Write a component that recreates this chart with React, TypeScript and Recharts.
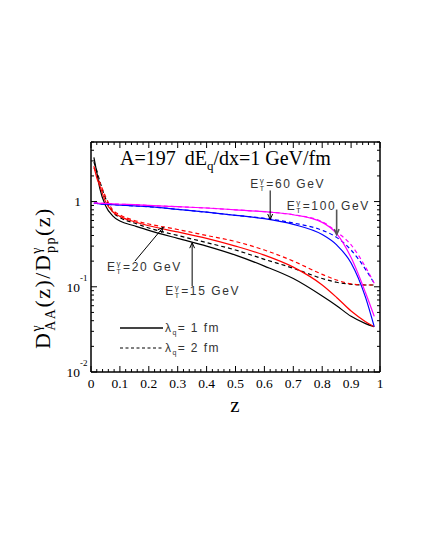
import React from "react";
import { LineChart, Line, XAxis, YAxis, ReferenceLine } from "recharts";

// z (fragmentation variable)
const zValues = [0.01, 0.02, 0.03, 0.05, 0.075, 0.1, 0.15, 0.2, 0.3, 0.4, 0.5, 0.6, 0.7, 0.8, 0.85, 0.9, 0.95, 0.98];

// lambda_q = 1 fm (solid)
const et15Lambda1 = [3.3, 2.2, 1.45, 0.9, 0.68, 0.59, 0.52, 0.46, 0.37, 0.3, 0.235, 0.175, 0.125, 0.078, 0.06, 0.045, 0.037, 0.034];
const et20Lambda1 = [2.6, 1.9, 1.55, 1.0, 0.76, 0.67, 0.58, 0.52, 0.44, 0.37, 0.3, 0.235, 0.17, 0.105, 0.075, 0.052, 0.039, 0.034];
const et60Lambda1 = [0.95, 0.95, 0.94, 0.93, 0.92, 0.91, 0.89, 0.87, 0.81, 0.75, 0.69, 0.63, 0.54, 0.41, 0.31, 0.19, 0.075, 0.034];
const et100Lambda1 = [0.96, 0.96, 0.95, 0.95, 0.94, 0.93, 0.92, 0.9, 0.87, 0.84, 0.8, 0.76, 0.7, 0.57, 0.42, 0.22, 0.085, 0.045];

// lambda_q = 2 fm (dashed)
const et15Lambda2 = [2.9, 2.3, 1.75, 1.1, 0.76, 0.65, 0.56, 0.49, 0.4, 0.33, 0.27, 0.21, 0.165, 0.125, 0.113, 0.107, 0.105, 0.105];
const et20Lambda2 = [2.5, 2.1, 1.7, 1.15, 0.8, 0.7, 0.6, 0.545, 0.47, 0.4, 0.34, 0.27, 0.2, 0.14, 0.12, 0.108, 0.105, 0.105];
const et60Lambda2 = [0.95, 0.95, 0.94, 0.93, 0.92, 0.91, 0.89, 0.87, 0.81, 0.75, 0.69, 0.635, 0.56, 0.46, 0.38, 0.27, 0.16, 0.11];
const et100Lambda2 = [0.96, 0.96, 0.95, 0.95, 0.94, 0.93, 0.92, 0.9, 0.87, 0.84, 0.8, 0.76, 0.7, 0.58, 0.44, 0.31, 0.17, 0.11];

// tick values
const xTickValues: number[] = [];
for (let i = 0; i <= 50; i++) xTickValues.push(Math.round(i * 2) / 100);
const yDecades = [0.01, 0.1, 1];
const yMultipliers = [1, 2, 3, 4, 5, 6, 7, 8, 9];
const yTickValues: number[] = [];
yDecades.forEach((d) => yMultipliers.forEach((m) => {
  const v = parseFloat((d * m).toPrecision(3));
  if (v <= 5) yTickValues.push(v);
}));

const data = zValues.map((z, i) => ({
  z,
  et15Lambda1: et15Lambda1[i],
  et20Lambda1: et20Lambda1[i],
  et60Lambda1: et60Lambda1[i],
  et100Lambda1: et100Lambda1[i],
  et15Lambda2: et15Lambda2[i],
  et20Lambda2: et20Lambda2[i],
  et60Lambda2: et60Lambda2[i],
  et100Lambda2: et100Lambda2[i],
}));

const arrows = [
  { energy: "60", tail: { x: 0.62, y: 1.35 }, tip: { x: 0.62, y: 0.616 }, dx: -20, dy: -2, color: "#000", width: 1 },
  { energy: "100", tail: { x: 0.85, y: 0.806 }, tip: { x: 0.85, y: 0.41 }, dx: -50, dy: 0, color: "#555", width: 1.6 },
  { energy: "20", tail: { x: 0.152, y: 0.2 }, tip: { x: 0.25, y: 0.5 }, dx: -28, dy: 10, color: "#000", width: 1 },
  { energy: "15", tail: { x: 0.35, y: 0.102 }, tip: { x: 0.35, y: 0.329 }, dx: -27, dy: 9, color: "#000", width: 1 },
];

const SERIF = "'Liberation Serif', 'Times New Roman', serif";
const SANS = "'Liberation Sans', Arial, sans-serif";

const isMajorX = (v: number) => Math.abs(v * 10 - Math.round(v * 10)) < 1e-6;
const isMajorY = (v: number) => {
  const e = Math.log10(v);
  return Math.abs(e - Math.round(e)) < 1e-6;
};
const xLabel = (v: number) => (v === 0 ? "0" : v === 1 ? "1" : v.toFixed(1));

const XTickBottom = (props: any) => {
  const { x, y, payload } = props;
  const v = payload.value;
  const major = isMajorX(v);
  return (
    <g>
      <line x1={x} x2={x} y1={y} y2={y - (major ? 6 : 3)} stroke="#000" strokeWidth={1} />
      {major && (
        <text x={x} y={y + 16} textAnchor="middle" fontFamily={SERIF} fontSize={13.5} fill="#000">
          {xLabel(v)}
        </text>
      )}
    </g>
  );
};

const XTickTop = (props: any) => {
  const { x, y, payload } = props;
  const major = isMajorX(payload.value);
  return <line x1={x} x2={x} y1={y} y2={y + (major ? 6 : 3)} stroke="#000" strokeWidth={1} />;
};

const YTickLeft = (props: any) => {
  const { x, y, payload } = props;
  const v = payload.value;
  const major = isMajorY(v);
  let label: React.ReactNode = null;
  if (major) {
    const e = Math.round(Math.log10(v));
    if (e === 0) {
      label = (
        <text x={x - 10} y={y + 4} textAnchor="end" fontFamily={SERIF} fontSize={13.5} fill="#000">1</text>
      );
    } else {
      label = (
        <g>
          <text x={x - 11} y={y + 5} textAnchor="end" fontFamily={SERIF} fontSize={13.5} fill="#000">10</text>
          <text x={x - 11} y={y - 6} textAnchor="start" fontFamily={SERIF} fontSize={9} fill="#000">{String(e)}</text>
        </g>
      );
    }
  }
  return (
    <g>
      <line x1={x} x2={x + (major ? 6 : 3)} y1={y} y2={y} stroke="#000" strokeWidth={1} />
      {label}
    </g>
  );
};

const YTickRight = (props: any) => {
  const { x, y, payload } = props;
  const major = isMajorY(payload.value);
  return <line x1={x} x2={x - (major ? 6 : 3)} y1={y} y2={y} stroke="#000" strokeWidth={1} />;
};

const EtLabel = ({ x, y, energy }: { x: number; y: number; energy: string }) => (
  <text x={x} y={y} fontFamily={SANS} fontSize={12} letterSpacing={1.6} fill="#333">
    E
    <tspan fontSize={7} dy={3}>T</tspan>
    <tspan fontSize={8} dx={-6} dy={-8}>γ</tspan>
    <tspan fontSize={12} dx={1} dy={5}>{`=${energy} GeV`}</tspan>
  </text>
);

const makeArrowShape = (a: typeof arrows[number]) => (p: any) => {
  const { x1, y1, x2, y2 } = p;
  if (![x1, y1, x2, y2].every((n) => typeof n === "number" && isFinite(n))) return <g />;
  const ang = Math.atan2(y2 - y1, x2 - x1);
  const L = 6;
  const W = 0.42;
  const hx1 = x2 - L * Math.cos(ang - W);
  const hy1 = y2 - L * Math.sin(ang - W);
  const hx2 = x2 - L * Math.cos(ang + W);
  const hy2 = y2 - L * Math.sin(ang + W);
  return (
    <g>
      <line x1={x1} y1={y1} x2={x2} y2={y2} stroke={a.color} strokeWidth={a.width} />
      <polyline points={`${hx1},${hy1} ${x2},${y2} ${hx2},${hy2}`} fill="none" stroke={a.color} strokeWidth={a.width} />
      <EtLabel x={x1 + a.dx} y={y1 + a.dy} energy={a.energy} />
    </g>
  );
};

const lineCommon = {
  type: "monotone" as const,
  dot: false,
  isAnimationActive: false,
  strokeWidth: 1.2,
  activeDot: false,
};

const axisLineStyle = { stroke: "#000", strokeWidth: 1.5 };

export default function App() {
  return (
    <LineChart
      width={417}
      height={530}
      data={data}
      margin={{ top: 133, right: 44, bottom: 165, left: 82 }}
      style={{ background: "#fff" }}
    >
      <XAxis
        dataKey="z"
        type="number"
        domain={[0, 1]}
        allowDataOverflow
        ticks={xTickValues}
        interval={0}
        tickSize={0}
        tickMargin={0}
        tickLine={false}
        height={1}
        tick={<XTickBottom />}
        axisLine={axisLineStyle}
      />
      <XAxis
        xAxisId="top"
        orientation="top"
        dataKey="z"
        type="number"
        domain={[0, 1]}
        allowDataOverflow
        ticks={xTickValues}
        interval={0}
        tickSize={0}
        tickMargin={0}
        tickLine={false}
        height={1}
        tick={<XTickTop />}
        axisLine={axisLineStyle}
      />
      <YAxis
        type="number"
        scale="log"
        domain={[0.01, 5]}
        allowDataOverflow
        ticks={yTickValues}
        interval={0}
        tickSize={0}
        tickMargin={0}
        tickLine={false}
        width={1}
        tick={<YTickLeft />}
        axisLine={axisLineStyle}
      />
      <YAxis
        yAxisId="right"
        orientation="right"
        type="number"
        scale="log"
        domain={[0.01, 5]}
        allowDataOverflow
        ticks={yTickValues}
        interval={0}
        tickSize={0}
        tickMargin={0}
        tickLine={false}
        width={1}
        tick={<YTickRight />}
        axisLine={axisLineStyle}
      />

      <Line {...lineCommon} dataKey="et15Lambda2" stroke="#000000" strokeDasharray="4 3" />
      <Line {...lineCommon} dataKey="et20Lambda2" stroke="#ff0000" strokeDasharray="4 3" />
      <Line {...lineCommon} dataKey="et60Lambda2" stroke="#0000ff" strokeDasharray="4 3" />
      <Line {...lineCommon} dataKey="et100Lambda2" stroke="#ff00ff" strokeDasharray="4 3" />
      <Line {...lineCommon} dataKey="et15Lambda1" stroke="#000000" />
      <Line {...lineCommon} dataKey="et20Lambda1" stroke="#ff0000" />
      <Line {...lineCommon} dataKey="et60Lambda1" stroke="#0000ff" />
      <Line {...lineCommon} dataKey="et100Lambda1" stroke="#ff00ff" />

      {arrows.map((a) => (
        <ReferenceLine
          key={a.energy}
          segment={[a.tail, a.tip]}
          stroke={a.color}
          ifOverflow="visible"
          shape={makeArrowShape(a)}
        />
      ))}

      {/* title */}
      <text x={112} y={157} fontFamily={SERIF} fontSize={20} fill="#000">
        A=197
        <tspan dx={9}>dE</tspan>
        <tspan fontSize={13} dy={5}>q</tspan>
        <tspan dy={-5}>/dx=1 GeV/fm</tspan>
      </text>

      {/* legend */}
      <line x1={112} x2={155} y1={320} y2={320} stroke="#444" strokeWidth={1.8} />
      <text x={157} y={324} fontFamily={SANS} fontSize={12} letterSpacing={1.4} fill="#333">
        λ<tspan fontSize={7} dy={3}>q</tspan><tspan dy={-3}>= 1 fm</tspan>
      </text>
      <line x1={112} x2={155} y1={340} y2={340} stroke="#000" strokeWidth={1} strokeDasharray="3 2.5" />
      <text x={157} y={344} fontFamily={SANS} fontSize={12} letterSpacing={1.4} fill="#333">
        λ<tspan fontSize={7} dy={3}>q</tspan><tspan dy={-3}>= 2 fm</tspan>
      </text>

      {/* axis titles */}
      <text x={227} y={404} textAnchor="middle" fontFamily={SERIF} fontSize={21} fill="#000">z</text>
      <text
        x={42}
        y={270}
        textAnchor="middle"
        transform="rotate(-90, 42, 270)"
        fontFamily={SERIF}
        fontSize={22}
        letterSpacing={1.5}
        fill="#000"
      >
        D
        <tspan fontSize={14} dy={-9}>γ</tspan>
        <tspan fontSize={14} dx={-7} dy={14}>AA</tspan>
        <tspan dy={-5}>(z)/D</tspan>
        <tspan fontSize={14} dy={-9}>γ</tspan>
        <tspan fontSize={14} dx={-7} dy={14}>pp</tspan>
        <tspan dy={-5}>(z)</tspan>
      </text>
    </LineChart>
  );
}
